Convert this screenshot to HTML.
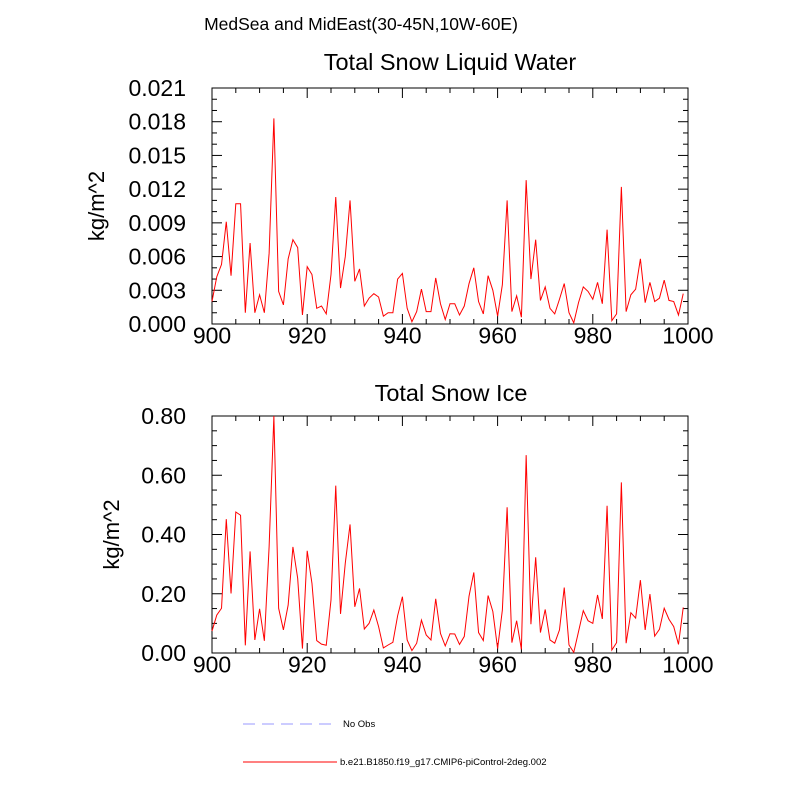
<!DOCTYPE html>
<html><head><meta charset="utf-8"><style>
body{margin:0;background:#fff}
svg{display:block;font-family:"Liberation Sans",sans-serif}
</style></head><body>
<svg id="c" width="800" height="800" viewBox="0 0 800 800">
<text x="361" y="30" font-size="17.5" text-anchor="middle">MedSea and MidEast(30-45N,10W-60E)</text>
<text x="450" y="70" font-size="23.5" text-anchor="middle">Total Snow Liquid Water</text>
<text x="451" y="401" font-size="23.5" text-anchor="middle">Total Snow Ice</text>
<g id="p1"></g>
<g id="p2"></g>
<g>
<line x1="243" y1="724" x2="332" y2="724" stroke="#9999ff" stroke-width="1" stroke-dasharray="12,7"/>
<text x="343" y="727" font-size="9.5">No Obs</text>
<line x1="243" y1="762" x2="337" y2="762" stroke="#ff0000" stroke-width="1"/>
<text x="340" y="765" font-size="9.5">b.e21.B1850.f19_g17.CMIP6-piControl-2deg.002</text>
</g>
</svg>
<script>
const years = Array.from({length:100},(_, i)=>900+i);
const liquidWater = [0.0020,0.0042,0.0053,0.0091,0.0043,0.0107,0.0107,0.0010,0.0072,0.0010,
0.0026,0.0010,0.0063,0.0183,0.0029,0.0017,0.0058,0.0075,0.0068,0.0008,
0.0051,0.0044,0.0014,0.0016,0.0009,0.0044,0.0113,0.0032,0.0060,0.0110,
0.0038,0.0049,0.0016,0.0023,0.0027,0.0024,0.0007,0.0010,0.0010,0.0040,
0.0045,0.0014,0.0002,0.0011,0.0031,0.0011,0.0011,0.0041,0.0018,0.0004,
0.0018,0.0018,0.0008,0.0016,0.0036,0.0050,0.0020,0.0009,0.0043,0.0030,
0.0007,0.0035,0.0110,0.0011,0.0025,0.0006,0.0128,0.0040,0.0075,0.0021,
0.0033,0.0014,0.0009,0.0022,0.0036,0.0010,0.0001,0.0019,0.0033,0.0029,
0.0022,0.0037,0.0018,0.0084,0.0003,0.0009,0.0122,0.0011,0.0026,0.0031,
0.0058,0.0019,0.0037,0.0020,0.0023,0.0039,0.0021,0.0020,0.0008,0.0027];
const snowIce = [0.074,0.128,0.151,0.452,0.201,0.476,0.465,0.026,0.343,0.044,
0.149,0.041,0.359,0.800,0.151,0.078,0.162,0.358,0.252,0.015,
0.345,0.235,0.042,0.030,0.026,0.179,0.565,0.132,0.303,0.434,
0.156,0.218,0.081,0.100,0.145,0.089,0.017,0.027,0.036,0.126,
0.190,0.044,0.008,0.033,0.111,0.061,0.044,0.183,0.066,0.024,
0.065,0.064,0.029,0.056,0.192,0.272,0.069,0.042,0.194,0.140,
0.015,0.145,0.492,0.035,0.109,0.012,0.668,0.097,0.323,0.069,
0.147,0.044,0.033,0.078,0.221,0.027,0.002,0.072,0.143,0.109,
0.100,0.196,0.115,0.497,0.010,0.035,0.576,0.033,0.136,0.118,
0.246,0.078,0.199,0.057,0.080,0.151,0.114,0.089,0.029,0.154];
const xTicks = [900,920,940,960,980,1000];
const yTicksTop = [0,0.003,0.006,0.009,0.012,0.015,0.018,0.021];
const yTicksBot = [0,0.2,0.4,0.6,0.8];

const NS="http://www.w3.org/2000/svg";
function mk(g,tag,attrs){const e=document.createElementNS(NS,tag);for(const k in attrs)e.setAttribute(k,attrs[k]);g.appendChild(e);return e;}

function panel(g,top,bot,ymax,yTicks,yMinorStep,dec,vals,ytitleX,name){
  const L=212,R=688;
  const xs=v=>L+(v-900)/100*(R-L);
  const ys=v=>bot-v/ymax*(bot-top);
  const frame=mk(g,'rect',{x:L,y:top,width:R-L,height:bot-top,fill:'none',stroke:'#000','stroke-width':1});
  
  
  for(let v=900;v<=1000;v+=5){
    const maj=(v%20===0), len=maj?10:5;
    mk(g,'line',{x1:xs(v),y1:bot,x2:xs(v),y2:bot-len,stroke:'#000'});
    mk(g,'line',{x1:xs(v),y1:top,x2:xs(v),y2:top+len,stroke:'#000'});
  }
  xTicks.forEach(v=>{
    const t=mk(g,'text',{x:xs(v),y:bot+19.5,'font-size':23,'text-anchor':'middle'});
    t.textContent=v;
    
    
  });
  const nMin=Math.round(ymax/yMinorStep);
  for(let i=0;i<=nMin;i++){
    const v=i*yMinorStep;
    const maj=yTicks.some(t=>Math.abs(t-v)<yMinorStep/10), len=maj?10:5;
    mk(g,'line',{x1:L,y1:ys(v),x2:L+len,y2:ys(v),stroke:'#000'});
    mk(g,'line',{x1:R,y1:ys(v),x2:R-len,y2:ys(v),stroke:'#000'});
  }
  yTicks.forEach(v=>{
    const t=mk(g,'text',{x:L-26,y:ys(v)+8,'font-size':23,'text-anchor':'end'});
    t.textContent=v.toFixed(dec);
    
    
  });
  const cy=(top+bot)/2;
  const yt=mk(g,'text',{x:ytitleX,y:cy,'font-size':22,'text-anchor':'middle',transform:`rotate(-90 ${ytitleX} ${cy})`});
  yt.textContent='kg/m^2';
  
  
  const pl=mk(g,'polyline',{points:vals.map((v,i)=>xs(years[i])+','+ys(v)).join(' '),fill:'none',stroke:'#ff0000','stroke-width':1});
  
  
}
panel(document.getElementById('p1'),88,324,0.021,yTicksTop,0.001,3,liquidWater,104,'top');
panel(document.getElementById('p2'),416,653,0.8,yTicksBot,0.05,2,snowIce,119,'bottom');
</script>
</body></html>
